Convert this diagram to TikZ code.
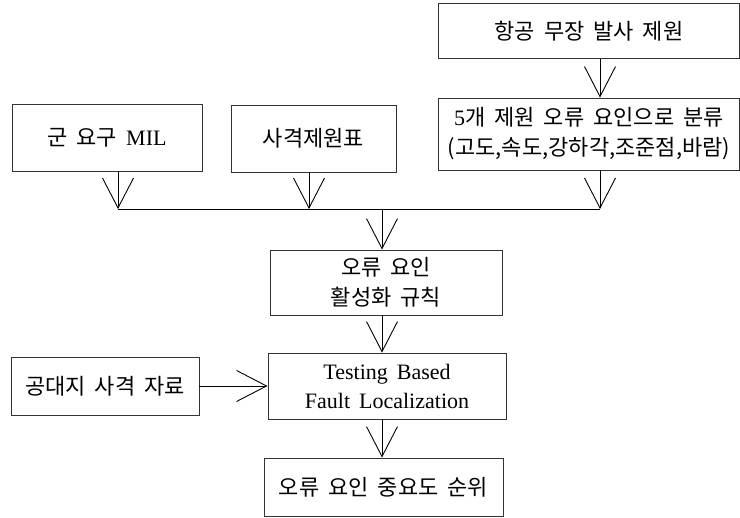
\documentclass[tikz,border=0pt]{standalone}
\usepackage{fontspec}
\setmainfont{Liberation Serif}
\newfontfamily\kr{Noto Sans CJK KR}
\usetikzlibrary{arrows.meta}

\newcommand\krfont{\kr\fontsize{22}{30}\selectfont\spaceskip=9pt plus 2pt\relax}
\newcommand\enfont{\rmfamily\fontsize{22}{29}\selectfont\spaceskip=9pt plus 2pt\relax}

\begin{document}
\begin{tikzpicture}[x=1pt,y=-1pt,
  blk/.style={draw=black!80, line width=0.9pt, rectangle, inner sep=0pt, align=center, font=\krfont},
  arr/.style={line width=0.9pt, -{Straight Barb[length=30pt,width=31pt,line width=0.9pt]}}
]
\useasboundingbox (0,0) rectangle (740,518);

\coordinate (j0) at (382,209);
\coordinate (j1) at (118,209);
\coordinate (j2) at (309,209);
\coordinate (j3) at (600,209);

\node[blk, minimum width=301pt, minimum height=55pt] (launch) at (589,31) {항공 무장 발사 제원};
\node[blk, minimum width=301pt, minimum height=72pt] (classify) at (589,134)
  {{\rmfamily 5}개 제원 오류 요인으로 분류\\(고도,속도,강하각,조준점,바람)};
\node[blk, minimum width=190pt, minimum height=67pt] (mil) at (107,137.5) {군 요구 {\rmfamily MIL}};
\node[blk, minimum width=165pt, minimum height=67pt] (table) at (313.5,138.5) {사격제원표};

\node[blk, minimum width=232pt, minimum height=65pt] (rule) at (386,282.5) {오류 요인\\활성화 규칙};
\node[blk, minimum width=238pt, minimum height=66pt, font=\enfont] (tbfl) at (387,386)
  {Testing Based\\Fault Localization};
\node[blk, minimum width=188pt, minimum height=58pt] (airground) at (105,386) {공대지 사격 자료};
\node[blk, minimum width=239pt, minimum height=58pt] (rank) at (383.5,487) {오류 요인 중요도 순위};

\draw[arr] (launch.south -| j3) -- (classify.north -| j3);

\draw[arr] (mil.south -| j1) -- (j1);
\draw[arr] (table.south -| j2) -- (j2);
\draw[arr] (classify.south -| j3) -- (j3);
\draw[line width=0.9pt] (j1) -- (j3);

\draw[arr] (j0) -- (rule.north -| j0);
\draw[arr] (rule.south -| j0) -- (tbfl.north -| j0);
\draw[arr] (airground.east) -- (tbfl.west);
\draw[arr] (tbfl.south -| j0) -- (rank.north -| j0);

\end{tikzpicture}
\end{document}
